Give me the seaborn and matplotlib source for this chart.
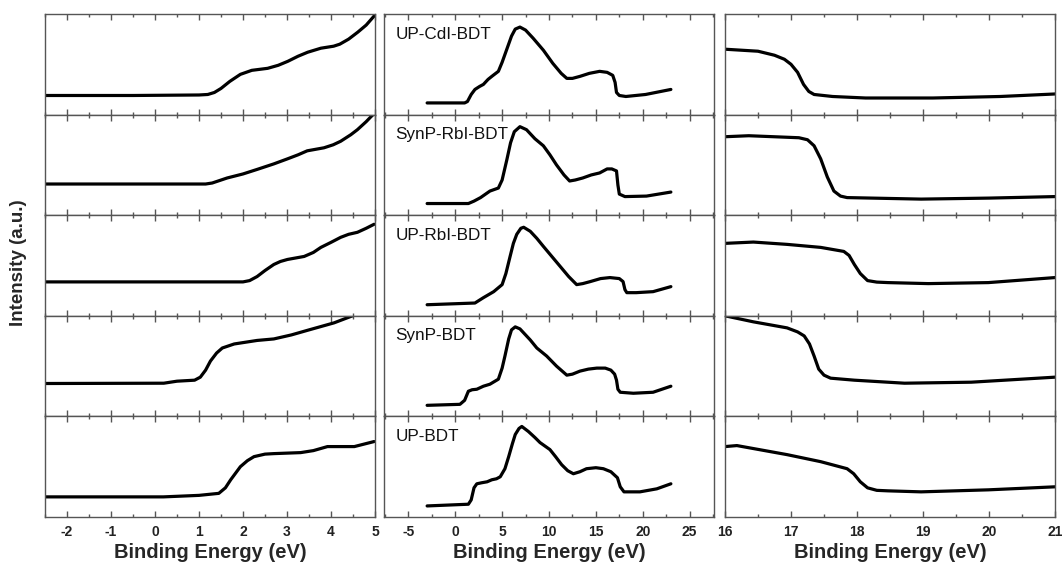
import matplotlib
matplotlib.use("Agg")
import matplotlib.pyplot as plt
from matplotlib.ticker import MultipleLocator
import seaborn as sns

# sample names (middle column labels), top to bottom
samples = ["UP-CdI-BDT", "SynP-RbI-BDT", "UP-RbI-BDT", "SynP-BDT", "UP-BDT"]

# left column: valence band onset region (intensity as panel fraction)
vb_x = [
    [-2.5, -0.5, 1.0, 1.2, 1.35, 1.5, 1.7, 1.94, 2.2, 2.56, 2.8, 3.02, 3.25, 3.47, 3.77, 4.06, 4.2, 4.4, 4.61, 4.8, 4.98, 5.1],
    [-2.5, -0.5, 1.15, 1.3, 1.64, 2.0, 2.32, 2.7, 3.01, 3.25, 3.46, 3.84, 4.05, 4.22, 4.45, 4.6, 4.8, 4.91, 5.05],
    [-2.5, -0.5, 2.0, 2.15, 2.32, 2.5, 2.7, 2.85, 3.01, 3.39, 3.6, 3.77, 4.0, 4.22, 4.4, 4.6, 4.8, 4.98],
    [-2.5, 0.2, 0.5, 0.9, 1.03, 1.15, 1.26, 1.4, 1.53, 1.8, 2.32, 2.7, 3.1, 3.46, 4.07, 4.49, 5.0],
    [-2.5, 0.19, 1.0, 1.45, 1.6, 1.72, 1.94, 2.1, 2.25, 2.5, 2.7, 3.31, 3.6, 3.92, 4.2, 4.53, 4.98],
]
vb_y = [
    [0.19, 0.19, 0.195, 0.20, 0.22, 0.26, 0.33, 0.40, 0.44, 0.46, 0.49, 0.53, 0.58, 0.62, 0.66, 0.68, 0.70, 0.75, 0.82, 0.89, 0.98, 1.04],
    [0.31, 0.31, 0.31, 0.32, 0.37, 0.41, 0.455, 0.51, 0.56, 0.60, 0.64, 0.67, 0.70, 0.735, 0.80, 0.85, 0.93, 0.98, 1.04],
    [0.337, 0.337, 0.337, 0.35, 0.39, 0.45, 0.51, 0.54, 0.56, 0.59, 0.63, 0.68, 0.73, 0.78, 0.81, 0.83, 0.87, 0.91],
    [0.327, 0.33, 0.35, 0.36, 0.39, 0.46, 0.55, 0.63, 0.68, 0.72, 0.755, 0.77, 0.81, 0.855, 0.93, 1.0, 1.08],
    [0.20, 0.20, 0.215, 0.235, 0.29, 0.37, 0.50, 0.56, 0.60, 0.625, 0.63, 0.64, 0.66, 0.70, 0.70, 0.70, 0.75],
]

# middle column: full UPS spectra
full_x = [
    [-3.0, 1.0, 1.3, 1.7, 2.1, 2.6, 3.0, 3.5, 3.9, 4.6, 5.0, 5.5, 6.0, 6.4, 6.9, 7.5, 8.3, 9.4, 10.4, 11.3, 11.9, 12.5, 13.3, 14.3, 15.4, 16.2, 16.8, 17.05, 17.2, 17.5, 18.2, 20.3, 23.0],
    [-3.0, 1.4, 2.0, 2.7, 3.7, 4.6, 5.0, 5.5, 5.9, 6.3, 6.9, 7.6, 8.5, 9.4, 10.1, 10.8, 11.6, 12.2, 12.8, 13.6, 14.5, 15.4, 16.2, 16.7, 17.2, 17.35, 17.5, 18.1, 20.4, 23.0],
    [-3.0, 2.1, 3.0, 4.1, 5.0, 5.4, 5.85, 6.2, 6.56, 7.0, 7.3, 8.0, 8.7, 9.4, 10.3, 11.2, 12.1, 12.95, 13.6, 14.4, 15.5, 16.5, 17.5, 17.9, 18.1, 18.3, 19.3, 21.1, 23.0],
    [-3.0, 0.5, 1.0, 1.4, 1.8, 2.3, 3.0, 3.7, 4.6, 5.0, 5.3, 5.7, 6.0, 6.4, 6.9, 7.3, 8.0, 8.7, 9.75, 10.8, 11.9, 12.5, 13.3, 14.2, 15.1, 16.0, 16.6, 17.0, 17.2, 17.35, 17.6, 19.0, 21.1, 23.0],
    [-3.0, 1.4, 1.7, 2.0, 2.3, 2.8, 3.4, 3.9, 4.4, 4.8, 5.3, 5.7, 6.1, 6.4, 6.8, 7.1, 7.8, 8.5, 9.04, 10.1, 10.7, 11.35, 12.0, 12.6, 13.3, 14.0, 15.0, 15.8, 16.6, 17.3, 17.6, 18.0, 19.7, 21.5, 23.0],
]
full_y = [
    [0.116, 0.116, 0.13, 0.20, 0.25, 0.28, 0.30, 0.35, 0.38, 0.43, 0.52, 0.65, 0.78, 0.85, 0.87, 0.84, 0.76, 0.64, 0.51, 0.41, 0.36, 0.36, 0.38, 0.41, 0.43, 0.42, 0.39, 0.32, 0.22, 0.19, 0.18, 0.20, 0.25],
    [0.116, 0.116, 0.14, 0.175, 0.24, 0.27, 0.35, 0.55, 0.72, 0.83, 0.88, 0.85, 0.76, 0.69, 0.60, 0.50, 0.40, 0.34, 0.35, 0.37, 0.40, 0.42, 0.46, 0.46, 0.44, 0.30, 0.21, 0.185, 0.19, 0.23],
    [0.11, 0.127, 0.18, 0.24, 0.31, 0.42, 0.59, 0.72, 0.81, 0.87, 0.88, 0.84, 0.77, 0.69, 0.59, 0.49, 0.39, 0.31, 0.32, 0.34, 0.37, 0.38, 0.37, 0.34, 0.26, 0.23, 0.23, 0.24, 0.29],
    [0.11, 0.12, 0.16, 0.25, 0.265, 0.27, 0.30, 0.32, 0.37, 0.48, 0.60, 0.77, 0.86, 0.89, 0.87, 0.83, 0.76, 0.68, 0.60, 0.50, 0.41, 0.42, 0.45, 0.47, 0.48, 0.48, 0.46, 0.42, 0.36, 0.27, 0.24, 0.23, 0.24, 0.30],
    [0.11, 0.127, 0.17, 0.29, 0.33, 0.34, 0.35, 0.37, 0.38, 0.40, 0.48, 0.60, 0.73, 0.82, 0.88, 0.90, 0.85, 0.79, 0.74, 0.67, 0.60, 0.52, 0.46, 0.43, 0.45, 0.48, 0.49, 0.48, 0.45, 0.39, 0.30, 0.25, 0.25, 0.28, 0.33],
]

# right column: secondary electron cutoff
cut_x = [
    [16.0, 16.5, 16.75, 16.9, 17.0, 17.1, 17.19, 17.27, 17.35, 17.63, 18.13, 19.15, 20.17, 21.0],
    [16.0, 16.36, 17.12, 17.25, 17.35, 17.45, 17.55, 17.65, 17.75, 17.85, 18.97, 20.0, 21.0],
    [16.0, 16.43, 16.94, 17.45, 17.8, 17.88, 17.96, 18.05, 18.16, 18.3, 18.47, 19.08, 19.99, 21.0],
    [15.9, 16.0, 16.43, 16.94, 17.1, 17.2, 17.28, 17.35, 17.42, 17.5, 17.6, 17.96, 18.72, 19.73, 21.0],
    [16.0, 16.18, 16.94, 17.45, 17.85, 17.95, 18.05, 18.16, 18.3, 18.47, 18.97, 19.99, 21.0],
]
cut_y = [
    [0.65, 0.63, 0.59, 0.55, 0.50, 0.42, 0.30, 0.23, 0.20, 0.18, 0.165, 0.165, 0.18, 0.205],
    [0.78, 0.79, 0.77, 0.75, 0.69, 0.56, 0.38, 0.24, 0.19, 0.175, 0.16, 0.17, 0.185],
    [0.72, 0.733, 0.71, 0.68, 0.64, 0.60, 0.51, 0.42, 0.35, 0.335, 0.33, 0.32, 0.33, 0.38],
    [1.02, 1.0, 0.94, 0.88, 0.84, 0.80, 0.72, 0.60, 0.47, 0.41, 0.38, 0.36, 0.33, 0.34, 0.39],
    [0.70, 0.71, 0.62, 0.55, 0.48, 0.43, 0.35, 0.29, 0.265, 0.26, 0.25, 0.27, 0.30],
]

sns.set_style("ticks")
plt.rcParams["font.family"] = ["Liberation Sans", "DejaVu Sans"]
plt.rcParams["axes.unicode_minus"] = False

fig = plt.figure(figsize=(10.62, 5.70), dpi=100)

col_left = [45 / 1062, 384 / 1062, 725 / 1062]
col_w = 330 / 1062
top = 1 - 14 / 570
row_h = (517 - 14) / 5 / 570

columns = [
    (vb_x, vb_y, (-2.5, 5), 1, 0.5),
    (full_x, full_y, (-7.6, 27.6), 5, 2.5),
    (cut_x, cut_y, (16, 21), 1, 0.5),
]

for c, (xs, ys, xlim, major, minor) in enumerate(columns):
    for r in range(5):
        ax = fig.add_axes([col_left[c], top - (r + 1) * row_h, col_w, row_h])
        sns.lineplot(x=xs[r], y=ys[r], ax=ax, color="black", lw=2.3,
                     estimator=None, sort=False, solid_joinstyle="round",
                     solid_capstyle="round")
        ax.set_xlim(*xlim)
        ax.set_ylim(0, 1)
        ax.set_yticks([])
        ax.xaxis.set_major_locator(MultipleLocator(major))
        ax.xaxis.set_minor_locator(MultipleLocator(minor))
        ax.tick_params(axis="x", which="both", direction="in", top=True,
                       bottom=True, color="#555555")
        ax.tick_params(axis="x", which="major", length=4.5, width=1)
        ax.tick_params(axis="x", which="minor", length=2.5, width=1)
        for s in ax.spines.values():
            s.set_color("#555555")
            s.set_linewidth(1.0)
        ax.set_xlabel("")
        ax.set_ylabel("")
        if r < 4:
            ax.set_xticklabels([])
        else:
            ax.tick_params(axis="x", labelsize=10, pad=6)
            for t in ax.get_xticklabels():
                t.set_fontweight("bold")
                t.set_color("#222222")
            ax.set_xlabel("Binding Energy (eV)", fontsize=14.5,
                          fontweight="bold", labelpad=3)
        if c == 1:
            ax.text(0.035, 0.80, samples[r], transform=ax.transAxes,
                    fontsize=12.3, va="center", ha="left", color="#111111")

fig.text(0.017, 0.54, "Intensity (a.u.)", rotation=90, fontsize=13.5,
         fontweight="bold", va="center", ha="center")

fig.savefig("out.png", dpi=100)
